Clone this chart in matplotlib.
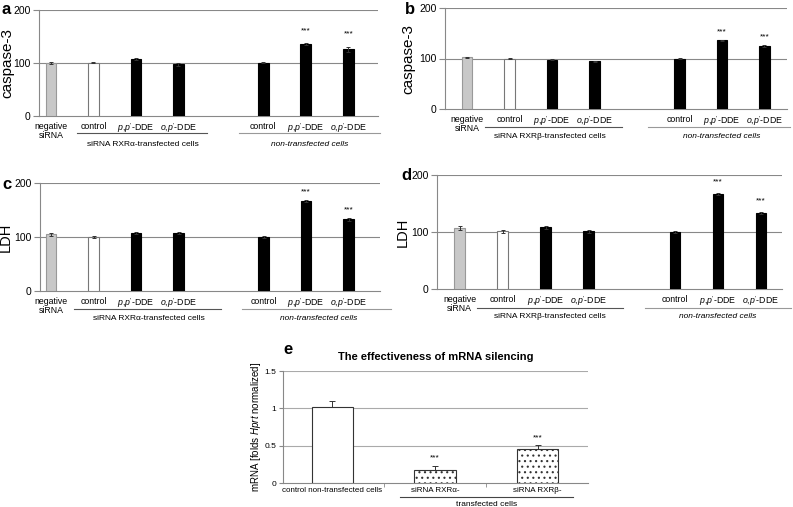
import numpy as np
import matplotlib
matplotlib.use('Agg')
import matplotlib.pyplot as plt

plt.rcParams['font.family'] = ['Liberation Sans', 'DejaVu Sans']
plt.rcParams['mathtext.fontset'] = 'custom'
plt.rcParams['mathtext.rm'] = 'Liberation Sans'
plt.rcParams['mathtext.it'] = 'Liberation Sans:italic'
plt.rcParams['hatch.linewidth'] = 0.8

W, H = 793, 507

#%% data
cats = ['negative\nsiRNA', 'control', r"$\mathit{p}$,$\mathit{p'}$-DDE", r"$\mathit{o}$,$\mathit{p'}$-DDE",
        'control', r"$\mathit{p}$,$\mathit{p'}$-DDE", r"$\mathit{o}$,$\mathit{p'}$-DDE"]
xpos = [0, 1, 2, 3, 5, 6, 7]

casp_a = [99, 100, 107, 97, 100, 136, 125]
casp_a_err = [2, 1, 2, 3, 1, 2, 4]
casp_b = [102, 100, 98, 95, 100, 136, 125]
casp_b_err = [1, 1, 1, 1, 1, 1, 2]
ldh_c = [105, 100, 108, 107, 100, 167, 133]
ldh_c_err = [3, 2, 2, 2, 1, 2, 3]
ldh_d = [107, 101, 108, 101, 100, 167, 133]
ldh_d_err = [3, 2, 2, 2, 1, 2, 2]

# star heights (value units) for the last two bars
stars_a = [159, 154]
stars_b = [152, 143]
stars_c = [183, 150]
stars_d = [188, 154]

mrna_cats = ['control non-transfected cells', 'siRNA RXRα-', 'siRNA RXRβ-']
mrna = [1.02, 0.17, 0.46]
mrna_err = [0.08, 0.06, 0.05]

fig = plt.figure(figsize=(W / 100, H / 100), dpi=100)


def add_ax(x0, x1, y0, y1):
    return fig.add_axes([x0 / W, 1 - y1 / H, (x1 - x0) / W, (y1 - y0) / H])


def bar_panel(box, vals, errs, stars, ylab, ysize, ylx, letter, rxr, xlim, letter_xy, groups):
    ax = add_ax(*box)
    hpx = box[3] - box[2]
    fc = ['#c8c8c8', 'white'] + ['black'] * 5
    ec = ['#999999', '#777777'] + ['black'] * 5
    ax.bar(xpos, vals, width=0.25, color=fc, edgecolor=ec, linewidth=0.8, zorder=3)
    ax.errorbar(xpos, vals, yerr=errs, fmt='none', ecolor='#333333', elinewidth=0.7,
                capsize=1.5, capthick=0.7, zorder=4)
    for xi, s in zip(xpos[-2:], stars):
        ax.text(xi, s, '***', ha='center', va='center', fontsize=6)
    ax.set_ylim(0, 200)
    ax.set_xlim(*xlim)
    ax.set_yticks([0, 100, 200])
    ax.tick_params(axis='y', labelsize=7.5, length=4, color='#888888', pad=2)
    for g in [100, 200]:
        ax.axhline(g, color='#888888', lw=0.8, zorder=1)
    for s in ['top', 'right']:
        ax.spines[s].set_visible(False)
    for s in ['left', 'bottom']:
        ax.spines[s].set_color('#888888')
    ax.set_xticks(xpos)
    ax.set_xticklabels(cats, fontsize=6.3, linespacing=1.0)
    ax.tick_params(axis='x', length=0, pad=4)
    ax.set_ylabel(ylab, fontsize=ysize)
    ax.yaxis.set_label_coords(ylx, 0.5)
    tr = ax.get_xaxis_transform()
    (l1, l2, l3, l4, t1, t2, dl, dt) = groups
    yl = -dl / hpx
    yt = -dt / hpx
    ax.plot([l1, l2], [yl, yl], color='#555555', lw=0.8, transform=tr, clip_on=False)
    ax.plot([l3, l4], [yl, yl], color='#999999', lw=0.8, transform=tr, clip_on=False)
    ax.text(t1, yt, 'siRNA %s-transfected cells' % rxr, ha='center', va='center',
            fontsize=6, transform=tr)
    ax.text(t2, yt, 'non-transfected cells', ha='center', va='center', fontsize=6,
            style='italic', transform=tr)
    fig.text(letter_xy[0] / W, 1 - letter_xy[1] / H, letter, fontsize=12,
             fontweight='bold', ha='left', va='center')
    return ax


bar_panel((39, 378, 9.5, 116), casp_a, casp_a_err, stars_a, 'caspase-3', 11, -0.074,
          'a', 'RXRα', (-0.28, 7.7), (2, 10), (0.61, 3.67, 4.42, 7.74, 2.16, 6.1, 17, 28))
bar_panel((445, 787, 8, 109), casp_b, casp_b_err, stars_b, 'caspase-3', 11, -0.088,
          'b', 'RXRβ', (-0.52, 7.53), (405, 10), (0.42, 3.65, 4.26, 7.6, 1.95, 6.0, 18, 28))
bar_panel((40, 380, 183, 291), ldh_c, ldh_c_err, stars_c, 'LDH', 10.5, -0.08,
          'c', 'RXRα', (-0.26, 7.74), (2, 184), (0.54, 4.0, 4.5, 8.0, 2.3, 6.3, 18, 27))
bar_panel((437, 782, 175, 289), ldh_d, ldh_d_err, stars_d, 'LDH', 10.5, -0.08,
          'd', 'RXRβ', (-0.53, 7.49), (401, 175), (0.4, 3.8, 4.3, 7.7, 2.1, 6.0, 19, 28))

#%% panel e
ax = add_ax(283, 588, 371, 483)
hpx = 483 - 371
ex = np.arange(3)
ax.bar(ex, mrna, width=0.4, color='white', edgecolor='#333333', linewidth=0.8,
       hatch=[None, '...', '...'], zorder=3)
ax.errorbar(ex, mrna, yerr=[[0, 0, 0], mrna_err], fmt='none', ecolor='#333333',
            elinewidth=0.7, capsize=2, capthick=0.7, zorder=4)
for xi, v, e in zip(ex[1:], mrna[1:], mrna_err[1:]):
    ax.text(xi, v + e + 0.1, '***', ha='center', va='center', fontsize=6)
ax.set_xlim(-0.48, 2.49)
ax.set_ylim(0, 1.5)
ax.set_yticks([0, 0.5, 1, 1.5])
ax.set_yticklabels(['0', '0.5', '1', '1.5'])
ax.tick_params(axis='y', labelsize=6, length=3, color='#888888', pad=2)
for g in [0.5, 1, 1.5]:
    ax.axhline(g, color='#aaaaaa', lw=0.8, zorder=1)
for s in ['top', 'right']:
    ax.spines[s].set_visible(False)
for s in ['left', 'bottom']:
    ax.spines[s].set_color('#888888')
ax.set_xticks(ex)
ax.set_xticklabels(mrna_cats, fontsize=5.8)
ax.set_xticks([0.5, 1.5], minor=True)
ax.tick_params(axis='x', which='major', length=0, pad=3)
ax.tick_params(axis='x', which='minor', length=3, color='#888888')
ax.set_ylabel(r'mRNA [folds $\mathit{Hprt}$ normalized]', fontsize=7)
ax.yaxis.set_label_coords(-0.066, 0.5)
tr = ax.get_xaxis_transform()
ax.plot([0.66, 2.34], [-14 / hpx] * 2, color='#444444', lw=0.8, transform=tr,
        clip_on=False)
ax.text(1.5, -21 / hpx, 'transfected cells', ha='center', va='center', fontsize=6,
        transform=tr)
ax.set_title('The effectiveness of mRNA silencing', fontsize=8, fontweight='bold', pad=8)
fig.text(283 / W, 1 - 349 / H, 'e', fontsize=12, fontweight='bold', ha='left',
         va='center')

fig.savefig('out.png', dpi=100)
